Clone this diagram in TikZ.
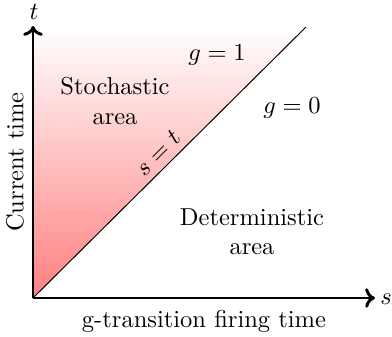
\documentclass[tikz,border=0pt]{standalone}
\usetikzlibrary{arrows.meta}
\begin{document}
\begin{tikzpicture}[x=0.408pt,y=-0.408pt,
  axis/.style={very thick,-{To[length=4pt,width=8pt]}},
  lbl/.style={inner sep=1pt,align=center}]
\useasboundingbox (0,0) rectangle (392,336);
\coordinate (O) at (33,298);
\coordinate (T) at (33,27);
\coordinate (D) at (306,27);
\coordinate (X) at (375,298);
\coordinate (Y) at (33,26);
\shade[bottom color=red!50,top color=white] (O) -- (T) -- (D) -- cycle;
\draw (O) -- (D);
\draw[axis] (O) -- (X);
\draw[axis] (O) -- (Y);
\node[lbl] (tl) at (34,12) {$t$};
\node[lbl] (sl) at (386,299) {$s$};
\node[lbl] (g1) at (217,55) {$g=1$};
\node[lbl] (g0) at (292,108) {$g=0$};
\node[lbl] (sto) at (115,101) {Stochastic\\area};
\node[lbl] (det) at (252,232) {Deterministic\\area};
\node[lbl,rotate=45] (st) at (158,153) {$s=t$};
\node[lbl,rotate=90] (ct) at (15,162) {Current time};
\node[lbl] (gt) at (204,321) {g-transition firing time};
\end{tikzpicture}
\end{document}
